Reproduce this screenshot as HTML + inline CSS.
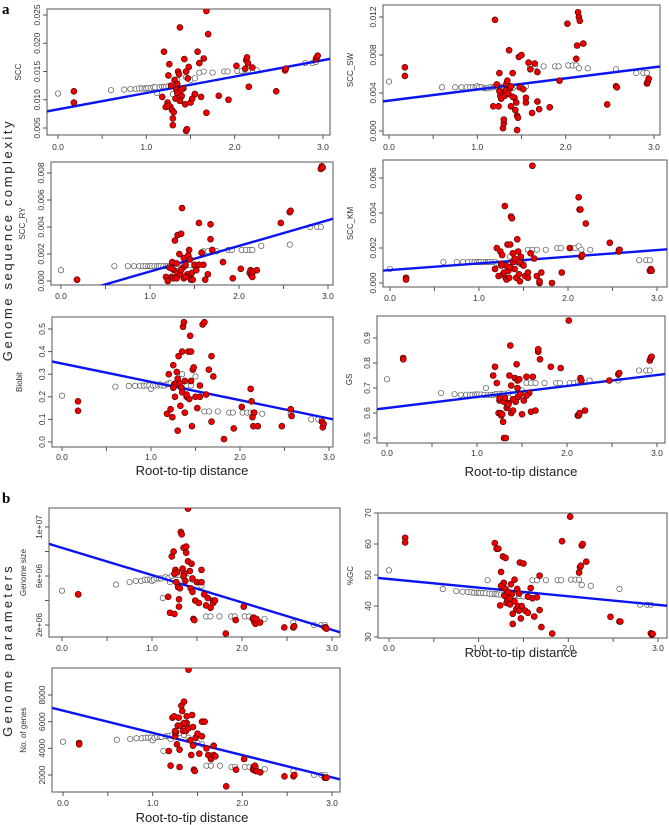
<!DOCTYPE html>
<html><head><meta charset="utf-8"><style>
body{margin:0;background:#fff;}
svg{display:block;font-family:"Liberation Sans",sans-serif;}
</style></head><body>
<svg id="fig" width="669" height="825" viewBox="0 0 669 825" xmlns="http://www.w3.org/2000/svg">
<text x="2" y="14" font-family="Liberation Serif" font-weight="bold" font-size="15">a</text>
<text x="2" y="503" font-family="Liberation Serif" font-weight="bold" font-size="15">b</text>
<text transform="translate(12,240) rotate(-90)" text-anchor="middle" font-size="13" letter-spacing="2.6" fill="#222">Genome  sequence complexity</text>
<text transform="translate(12,650) rotate(-90)" text-anchor="middle" font-size="13" letter-spacing="3.2" fill="#222">Genome  parameters</text>
<text x="192" y="475" text-anchor="middle" font-size="13" fill="#222">Root-to-tip distance</text>
<text x="521" y="476" text-anchor="middle" font-size="13" fill="#222">Root-to-tip distance</text>
<text x="521" y="657" text-anchor="middle" font-size="13" fill="#222">Root-to-tip distance</text>
<text x="192" y="822" text-anchor="middle" font-size="13" fill="#222">Root-to-tip distance</text>
</svg>
<script>
const grayX=[0,0.6,0.75,0.82,0.88,0.92,0.95,0.98,1.0,1.02,1.05,1.08,1.1,1.12,1.15,1.18,1.2,1.22,1.25,1.28,1.3,1.35,1.4,1.45,1.5,1.55,1.6,1.65,1.75,1.88,1.92,2.03,2.08,2.12,2.15,2.25,2.57,2.8,2.88,2.92];
const redX=[0.18,0.18,1.18,1.2,1.22,1.24,1.25,1.26,1.27,1.28,1.29,1.3,1.3,1.31,1.32,1.33,1.34,1.35,1.36,1.37,1.38,1.38,1.4,1.42,1.43,1.44,1.45,1.46,1.47,1.48,1.5,1.52,1.55,1.58,1.6,1.62,1.65,1.68,1.68,1.7,1.82,1.93,2.02,2.12,2.13,2.14,2.15,2.16,2.2,2.47,2.57,2.58,2.92,2.93,2.94,1.35,1.45,1.55,1.25,1.4];
const xTicks=[0,0.5,1,1.5,2,2.5,3];
const xTickLabels=["0.0","","1.0","","2.0","","3.0"];

const sccGray=[0.0111,0.0117,0.0118,0.0119,0.0119,0.0120,0.0120,0.0120,0.0120,0.0121,0.0121,0.0122,0.0122,0.0112,0.0122,0.0123,0.0123,0.0123,0.0124,0.0124,0.0110,0.0135,0.0105,0.0140,0.0135,0.0138,0.0148,0.0150,0.0148,0.0150,0.0150,0.0151,0.0151,0.0152,0.0152,0.0152,0.0152,0.0165,0.0165,0.0167];
const sccRed=[0.0115,0.0095,0.0105,0.0185,0.0087,0.0095,0.0143,0.0163,0.0088,0.0125,0.0082,0.0055,0.0067,0.0078,0.0135,0.0102,0.0118,0.0112,0.0150,0.0145,0.0228,0.0098,0.0107,0.0120,0.0172,0.0092,0.0045,0.0048,0.0138,0.0158,0.0095,0.0102,0.0110,0.0185,0.0165,0.0105,0.0173,0.0077,0.0257,0.0216,0.0107,0.0100,0.0160,0.0155,0.0170,0.0175,0.0165,0.0123,0.0157,0.0115,0.0152,0.0155,0.0172,0.0175,0.0178,0.0128,0.0150,0.0110,0.0090,0.0118];
const sccFit=[0.0083,0.0029];

const swGray=[0.0052,0.0046,0.0046,0.0046,0.0046,0.0046,0.0046,0.0046,0.0047,0.0046,0.0046,0.0045,0.0045,0.0045,0.0046,0.0046,0.0047,0.0047,0.0047,0.0046,0.0046,0.0046,0.0045,0.0047,0.0046,0.0047,0.0068,0.0068,0.0068,0.0068,0.0068,0.0069,0.0069,0.0069,0.0066,0.0066,0.0065,0.0061,0.0061,0.0061];
const swRed=[0.0067,0.0058,0.0026,0.0117,0.0049,0.0026,0.0061,0.0037,0.0034,0.0040,0.0003,0.0008,0.0012,0.0037,0.0043,0.0050,0.0053,0.0039,0.0085,0.0045,0.0026,0.0047,0.0061,0.0035,0.0022,0.0030,0.0016,0.0014,0.0078,0.0046,0.0080,0.0044,0.0030,0.0072,0.0065,0.0019,0.0071,0.0031,0.0062,0.0023,0.0025,0.0053,0.0113,0.0076,0.0090,0.0125,0.0120,0.0116,0.0092,0.0028,0.0047,0.0046,0.0050,0.0052,0.0055,0.0040,0.0001,0.0035,0.0042,0.0036];
const swFit=[0.0032,0.00117];

const ryGray=[0.0008,0.0011,0.0011,0.0011,0.0011,0.0011,0.0011,0.0011,0.0011,0.0011,0.0011,0.0011,0.0011,0.0011,0.0011,0.0011,0.0011,0.0011,0.0011,0.0011,0.0011,0.0012,0.0011,0.0012,0.0011,0.0012,0.0022,0.0022,0.0022,0.0023,0.0023,0.0023,0.0023,0.0023,0.0023,0.0026,0.0027,0.0040,0.0040,0.0040];
const ryRed=[0.0001,0.0001,0.0003,0.0,0.0010,0.0003,0.0014,0.0002,0.0008,0.0030,0.0003,0.0002,0.0013,0.0034,0.0006,0.0020,0.0005,0.0035,0.0054,0.0010,0.0002,0.0017,0.0012,0.0005,0.0019,0.0023,0.0003,0.0001,0.0006,0.0001,0.0012,0.0008,0.0043,0.0021,0.0012,0.0001,0.0005,0.0042,0.0031,0.0023,0.0014,0.0002,0.0009,0.0006,0.0008,0.0004,0.0003,0.0007,0.0008,0.0043,0.0051,0.0052,0.0083,0.0085,0.0084,0.0008,0.0016,0.0012,0.0009,0.0003];
const ryFit=[-0.0012,0.0019];

const kmGray=[0.0008,0.0012,0.0012,0.0012,0.0012,0.0012,0.0012,0.0012,0.0012,0.0012,0.0012,0.0012,0.0012,0.0012,0.0012,0.0012,0.0011,0.0011,0.0011,0.0011,0.0011,0.0015,0.0012,0.0011,0.0012,0.0019,0.0019,0.0019,0.0019,0.0020,0.0020,0.0020,0.0020,0.0021,0.0019,0.0019,0.0019,0.0013,0.0013,0.0013];
const kmRed=[0.0003,0.0002,0.0008,0.0020,0.0004,0.0018,0.0011,0.0016,0.0005,0.0006,0.0044,0.0010,0.0003,0.0002,0.0022,0.0007,0.0003,0.0022,0.0038,0.0037,0.0012,0.0017,0.0008,0.0003,0.0025,0.0018,0.0005,0.0001,0.0015,0.0011,0.0010,0.0004,0.0003,0.0017,0.0067,0.0014,0.0004,0.0000,0.0001,0.0006,0.0000,0.0006,0.0020,0.0049,0.0042,0.0042,0.0015,0.0016,0.0034,0.0023,0.0018,0.0019,0.0007,0.0008,0.0007,0.0009,0.0012,0.0006,0.0010,0.0014];
const kmFit=[0.00074,0.00038];

const bioGray=[0.205,0.245,0.248,0.248,0.249,0.249,0.25,0.25,0.235,0.25,0.25,0.25,0.255,0.25,0.25,0.255,0.26,0.26,0.25,0.25,0.26,0.3,0.25,0.25,0.29,0.25,0.135,0.135,0.135,0.13,0.13,0.13,0.13,0.13,0.13,0.125,0.125,0.1,0.1,0.1];
const bioRed=[0.18,0.138,0.125,0.30,0.145,0.11,0.34,0.255,0.20,0.26,0.31,0.28,0.05,0.38,0.26,0.16,0.24,0.40,0.51,0.53,0.13,0.27,0.20,0.40,0.19,0.47,0.40,0.07,0.32,0.33,0.20,0.15,0.25,0.52,0.53,0.21,0.32,0.09,0.38,0.29,0.013,0.06,0.155,0.235,0.18,0.11,0.07,0.13,0.07,0.07,0.145,0.115,0.09,0.065,0.08,0.22,0.27,0.2,0.24,0.21];
const bioFit=[0.347,-0.081];

const gsGray=[0.735,0.68,0.675,0.673,0.673,0.673,0.673,0.674,0.674,0.674,0.674,0.672,0.70,0.672,0.672,0.672,0.675,0.676,0.677,0.677,0.677,0.68,0.675,0.68,0.69,0.72,0.72,0.72,0.72,0.72,0.72,0.72,0.72,0.725,0.725,0.73,0.73,0.77,0.77,0.77];
const gsRed=[0.82,0.815,0.75,0.785,0.72,0.60,0.65,0.60,0.59,0.595,0.565,0.50,0.645,0.66,0.50,0.62,0.63,0.64,0.75,0.87,0.71,0.60,0.61,0.74,0.645,0.795,0.73,0.665,0.735,0.675,0.595,0.65,0.745,0.68,0.605,0.745,0.61,0.845,0.855,0.815,0.785,0.78,0.97,0.59,0.59,0.60,0.74,0.73,0.61,0.73,0.755,0.76,0.81,0.82,0.825,0.635,0.70,0.67,0.66,0.655];
const gsFit=[0.62,0.044];

const sizeGray=[4.8e6,5.3e6,5.5e6,5.6e6,5.6e6,5.7e6,5.7e6,5.7e6,5.6e6,5.7e6,5.8e6,5.8e6,5.8e6,4.2e6,5.9e6,5.8e6,5.5e6,6.0e6,6.1e6,6.1e6,6.1e6,5.9e6,5.8e6,5.7e6,5.5e6,5.2e6,2.7e6,2.7e6,2.7e6,2.7e6,2.7e6,2.7e6,2.7e6,2.6e6,2.5e6,2.5e6,2.2e6,2.0e6,2.0e6,2.0e6];
const sizeRed=[4.5e6,4.5e6,4.3e6,3.0e6,7.6e6,8.0e6,2.9e6,6.5e6,5.5e6,6.3e6,5.1e6,4.1e6,3.5e6,5.0e6,9.6e6,9.4e6,6.6e6,8.3e6,6.2e6,5.6e6,7.9e6,8.4e6,7.2e6,6.4e6,5.0e6,7.0e6,4.7e6,2.5e6,2.4e6,4.0e6,5.5e6,3.8e6,6.5e6,4.5e6,3.6e6,4.2e6,3.4e6,4.0e6,3.8e6,4.0e6,1.3e6,2.4e6,3.5e6,2.5e6,2.6e6,2.2e6,2.1e6,2.5e6,2.2e6,1.8e6,1.8e6,1.9e6,1.8e6,1.8e6,1.7e6,6.0e6,5.8e6,5.5e6,6.2e6,11.5e6];
const sizeFit=[8.3e6,-2.23e6];

const gcGray=[51.5,45.5,44.8,44.6,44.5,44.4,44.3,44.3,44.3,44.2,44.2,44.1,48.3,44,43.9,43.8,43.8,43.7,43.7,43.6,43.5,43.6,43.4,43.2,43.1,43,48.3,48.3,48.3,48.3,48.3,48.5,48.5,48.5,46.8,46.5,45.5,40.4,40.4,40.4];
const gcRed=[62,60.5,60.3,58.5,58.5,40.2,51,46,56,47.5,43.3,45.5,55.5,41,42,44.5,41,40.5,47,43.8,37.5,34.2,48.5,39,45.5,40,38.5,54,36,40,53.7,38.5,37.8,45.8,42.5,36.6,42.8,49.8,38.7,33.2,31.1,60.9,68.8,50.8,52.5,53,59.5,60,54.3,36.5,35,35,31.2,30.8,31,42.5,44,43,46.5,41.5];
const gcFit=[48.7,-2.78];

const genesGray=[4500,4650,4700,4750,4750,4800,4800,4800,4600,4800,4850,4850,4850,3800,4900,4900,4700,5000,5100,5100,5150,5000,4800,4500,4400,4300,2700,2700,2700,2600,2600,2600,2600,2600,2600,2450,2300,2000,2000,2000];
const genesRed=[4400,4300,3800,2700,6300,6400,4900,5200,4300,5700,6300,3900,2600,5700,7200,6800,5300,7500,5800,5300,6400,5900,5500,4600,3500,6500,4200,2400,2300,4800,5100,3600,6000,6000,4000,3500,3200,4200,3500,3400,1150,2400,3200,2400,2600,2700,2300,2300,2200,1900,1900,2000,1800,1800,1800,5900,5600,4900,5300,9900];
const genesFit=[6830,-1670];

const sccTicks=[0.005,0.010,0.015,0.020,0.025], sccTickLabels=["0.005","0.010","0.015","0.020","0.025"];
const swTicks=[0,0.004,0.008,0.012], swTickLabels=["0.000","0.004","0.008","0.012"];
const ryTicks=[0,0.002,0.004,0.006,0.008], ryTickLabels=["0.000","0.002","0.004","0.006","0.008"];
const kmTicks=[0,0.002,0.004,0.006], kmTickLabels=["0.000","0.002","0.004","0.006"];
const bioTicks=[0,0.1,0.2,0.3,0.4,0.5], bioTickLabels=["0.0","0.1","0.2","0.3","0.4","0.5"];
const gsTicks=[0.5,0.6,0.7,0.8,0.9], gsTickLabels=["0.5","0.6","0.7","0.8","0.9"];
const sizeTicks=[2e6,4e6,6e6,8e6,1e7], sizeTickLabels=["2e+06","","6e+06","","1e+07"];
const gcTicks=[30,40,50,60,70], gcTickLabels=["30","40","50","60","70"];
const genesTicks=[2000,4000,6000,8000], genesTickLabels=["2000","4000","6000","8000"];

const NS="http://www.w3.org/2000/svg";
const svg=document.getElementById('fig');
function mk(tag,attrs,parent){const e=document.createElementNS(NS,tag);for(const k in attrs)e.setAttribute(k,attrs[k]);(parent||svg).appendChild(e);return e;}

function panel(id,name,box,xm,ym,yl,gray,red,fit,yt,ytl,ylx,lblOff){
  const [L,T,R,B]=box;
  const sx=v=>xm[0]+v*(xm[1]-xm[0])/3;
  const sy=v=>ym[1]+(v-ym[0])*(ym[3]-ym[1])/(ym[2]-ym[0]);
  const g=mk('g',{});
  
  
  const cp=mk('clipPath',{id:'c'+id},g);
  mk('rect',{x:L,y:T,width:R-L,height:B-T},cp);
  const frame=mk('rect',{x:L,y:T,width:R-L,height:B-T,fill:'none',stroke:'#555','stroke-width':1},g);
  
  
  xTicks.forEach((t,i)=>{
    const x=sx(t);
    const tk=mk('line',{x1:x,x2:x,y1:B,y2:B+4,stroke:'#555'},g);
    
    
    if(xTickLabels[i]){const tx=mk('text',{x:x,y:B+lblOff,'text-anchor':'middle','font-size':8.5,fill:'#333'},g);tx.textContent=xTickLabels[i];
      
      }
  });
  yt.forEach((t,i)=>{
    const y=sy(t);
    const tk=mk('line',{x1:L-4,x2:L,y1:y,y2:y,stroke:'#555'},g);
    
    
    if(ytl[i]){const tx=mk('text',{transform:`translate(${L-7},${y}) rotate(-90)`,'text-anchor':'middle','font-size':8.5,fill:'#333'},g);tx.textContent=ytl[i];
      
      }
  });
  const ylab=mk('text',{transform:`translate(${ylx},${(T+B)/2}) rotate(-90)`,'text-anchor':'middle','font-size':8,fill:'#333'},g);
  ylab.textContent=yl;
  
  
  const pg=mk('g',{'clip-path':`url(#c${id})`},g);
  grayX.forEach((x,i)=>{
    const c=mk('circle',{cx:sx(x),cy:sy(gray[i]),r:2.7,fill:'#fff',stroke:'#555','stroke-width':0.7},pg);
    
    
  });
  const x0=-0.3,x1=3.3;
  const ln=mk('line',{x1:sx(x0),y1:sy(fit[0]+fit[1]*x0),x2:sx(x1),y2:sy(fit[0]+fit[1]*x1),stroke:'#0a14f0','stroke-width':2.4},pg);
  
  
  redX.forEach((x,i)=>{
    const c=mk('circle',{cx:sx(x),cy:sy(red[i]),r:3,fill:'#e00',stroke:'#400','stroke-width':0.6},pg);
    
    
  });
}
panel(1,'scc',[47,9,330,135],[58,323],[0.025,15,0.005,128],'SCC',sccGray,sccRed,sccFit,sccTicks,sccTickLabels,21,15);
panel(2,'scc-sw',[383,5,660,135],[389,654],[0.012,17,0,131],'SCC_SW',swGray,swRed,swFit,swTicks,swTickLabels,353,15);
panel(3,'scc-ry',[51,162,333,285],[61,328],[0.008,173,0,281],'SCC_RY',ryGray,ryRed,ryFit,ryTicks,ryTickLabels,25,14);
panel(4,'scc-km',[383,160,667,287],[390,657],[0.006,178,0,283],'SCC_KM',kmGray,kmRed,kmFit,kmTicks,kmTickLabels,353,14);
panel(5,'biobit',[52,317,333,447],[62,329],[0.5,329,0,442],'Biobit',bioGray,bioRed,bioFit,bioTicks,bioTickLabels,22,13);
panel(6,'gs',[377,316,665,443],[387,657],[0.9,338,0.5,438],'GS',gsGray,gsRed,gsFit,gsTicks,gsTickLabels,352,13);
panel(7,'genome-size',[49,508,340,637],[62,332],[1e7,527,2e6,625],'Genome size',sizeGray,sizeRed,sizeFit,sizeTicks,sizeTickLabels,26,14);
panel(8,'gc',[378,513,667,638],[389,658],[70,513,30,637],'%GC',gcGray,gcRed,gcFit,gcTicks,gcTickLabels,353,13);
panel(9,'genes',[52,668,340,792],[63,332],[8000,695,2000,775],'No. of genes',genesGray,genesRed,genesFit,genesTicks,genesTickLabels,26,14);
</script>
</body></html>
